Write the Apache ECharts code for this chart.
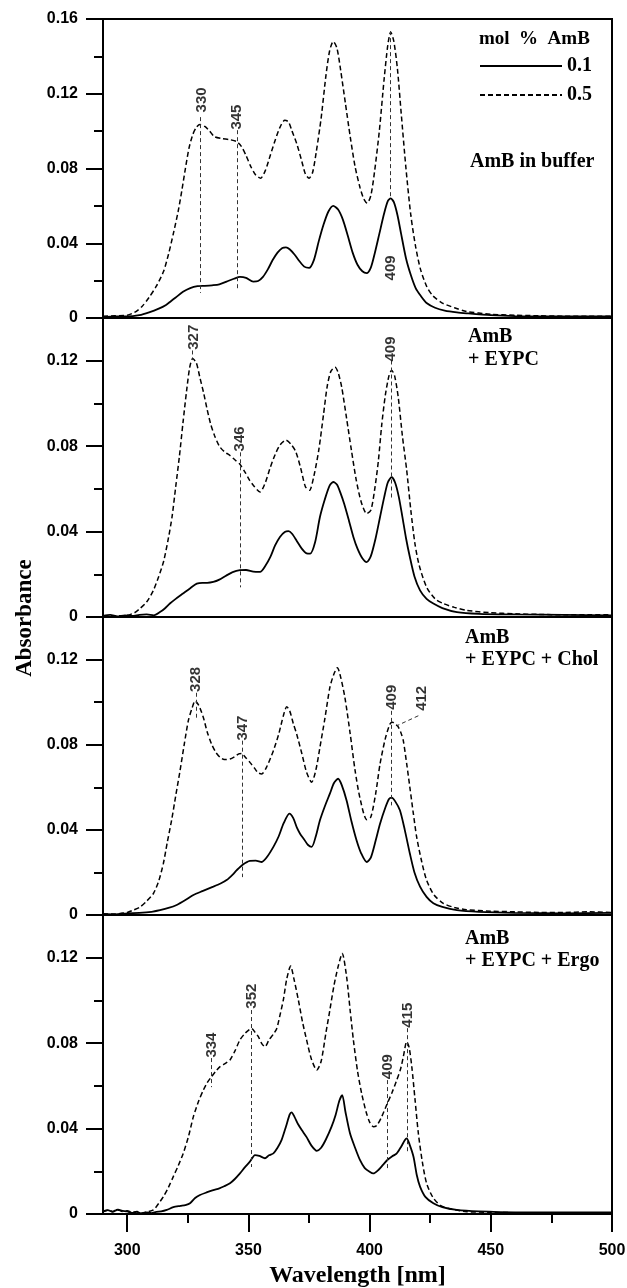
<!DOCTYPE html>
<html><head><meta charset="utf-8">
<script src="https://cdn.jsdelivr.net/npm/echarts@6/dist/echarts.min.js"></script>
<style>html,body{margin:0;padding:0;background:#fff}#c{width:627px;height:1288px}</style>
</head><body><div id="c"></div>
<script>
// ---------- data ----------
const xMin = 290, xMax = 500;
const xTicks = [300, 350, 400, 450, 500];
const xMinorTicks = [325, 375, 425, 475];
const seriesNames = ['0.1', '0.5'];
const panelYMax = [0.16, 0.14, 0.14, 0.14];
const panelTitles = [['AmB in buffer'], ['AmB', '+ EYPC'], ['AmB', '+ EYPC + Chol'], ['AmB', '+ EYPC + Ergo']];

const buffer05 = [[290,0.001],[295,0.0012],[300,0.0015],[303,0.003],[306,0.006],[309,0.011],[312,0.017],[315,0.025],[317,0.034],[319,0.045],[321,0.057],[322.5,0.068],[324,0.08],[325.5,0.091],[327,0.098],[328.5,0.102],[330,0.1035],[332,0.1025],[334,0.1],[336,0.097],[339,0.096],[342,0.0955],[345,0.0945],[347,0.092],[349,0.087],[351,0.081],[353,0.0765],[355,0.0748],[357,0.079],[359,0.087],[361,0.095],[363,0.102],[365,0.1058],[366.5,0.105],[368,0.1],[370,0.093],[372,0.084],[373.5,0.077],[375,0.0748],[376.5,0.078],[378,0.089],[380,0.107],[382,0.13],[383.5,0.143],[385,0.148],[386.5,0.1445],[388,0.133],[390,0.115],[392,0.097],[394,0.081],[396,0.07],[397.5,0.064],[399,0.0615],[400.5,0.0655],[402,0.078],[404,0.1],[406,0.128],[407.5,0.146],[408.7,0.153],[410,0.148],[411.5,0.133],[413,0.11],[415,0.08],[417,0.055],[419,0.038],[421,0.026],[423.5,0.017],[426,0.012],[430,0.008],[435,0.0055],[440,0.0035],[450,0.002],[460,0.0015],[470,0.0012],[480,0.001],[490,0.001],[500,0.001]];
const buffer01 = [[290,0.0005],[295,0.0008],[300,0.0008],[305,0.0015],[309,0.003],[313,0.005],[316,0.007],[318,0.009],[320,0.011],[323,0.014],[326,0.016],[329,0.017],[332,0.0172],[335,0.0175],[338,0.018],[341,0.0195],[344,0.021],[346.5,0.022],[349,0.0215],[352,0.0195],[354,0.0198],[356,0.022],[358,0.026],[360,0.031],[362,0.035],[364,0.0375],[365.5,0.0378],[367,0.0368],[369,0.034],[371,0.0305],[373,0.0275],[375,0.0268],[377,0.031],[379,0.041],[381,0.05],[383,0.057],[385,0.06],[387,0.058],[389,0.0525],[391,0.044],[393,0.035],[395,0.0285],[397,0.025],[398.8,0.024],[400.5,0.027],[402,0.034],[404,0.045],[406,0.056],[407.5,0.0625],[408.7,0.064],[410,0.062],[411.5,0.055],[413,0.045],[415,0.032],[417,0.023],[419,0.016],[421,0.012],[423.5,0.008],[427,0.0055],[431,0.004],[436,0.003],[440,0.0025],[450,0.0015],[460,0.001],[480,0.0008],[500,0.0008]];

const eypc05 = [[290,0.0005],[295,0.0005],[300,0.0008],[303,0.002],[305.3,0.004],[308,0.007],[310.8,0.0125],[313,0.019],[315,0.026],[317,0.037],[318.5,0.047],[320,0.061],[321.5,0.075],[323,0.091],[324.5,0.106],[325.8,0.117],[327,0.121],[328.5,0.119],[330,0.112],[331.5,0.105],[333,0.097],[334.5,0.09],[336,0.085],[338,0.08],[340,0.0775],[342.5,0.0755],[344.5,0.0735],[346.5,0.0715],[348.5,0.068],[350.5,0.064],[352.5,0.061],[354.8,0.0585],[357,0.063],[359,0.07],[361,0.076],[363,0.0805],[365.5,0.0828],[367.5,0.081],[369.5,0.0775],[371.5,0.07],[373.5,0.061],[375.2,0.0593],[377,0.066],[379,0.078],[381,0.095],[382.5,0.108],[384,0.115],[385.7,0.117],[387,0.1145],[388.5,0.1075],[390.5,0.093],[392.5,0.078],[394.5,0.064],[396.5,0.054],[398.8,0.0484],[400.5,0.05],[402,0.059],[403.6,0.073],[405,0.09],[406.5,0.104],[408,0.113],[409.1,0.1155],[410.3,0.113],[411.8,0.103],[413.5,0.085],[415.3,0.0687],[417,0.05],[418.7,0.0343],[420.5,0.024],[423.5,0.014],[427,0.0085],[430.4,0.0063],[435,0.0045],[440,0.0031],[450,0.002],[460,0.0015],[470,0.0012],[480,0.001],[490,0.001],[500,0.001]];
const eypc01 = [[290,0.0005],[293,0.001],[296,0.0003],[299,0.0008],[302,0.0005],[305,0.001],[308,0.0012],[311,0.0008],[313.5,0.0023],[315.5,0.004],[317.6,0.0063],[320,0.0085],[323,0.011],[326,0.0135],[328.7,0.0156],[331,0.016],[333,0.016],[335.5,0.0164],[338,0.0175],[341,0.0195],[343.5,0.021],[346.5,0.0219],[349,0.022],[352,0.0212],[354.8,0.0211],[357,0.024],[359,0.028],[361,0.0335],[363,0.0375],[365,0.0398],[366.5,0.0402],[368,0.039],[370,0.0355],[372,0.032],[374,0.0298],[375.5,0.0297],[377.5,0.035],[379.5,0.0468],[381.5,0.055],[383.5,0.0615],[385,0.0632],[386.5,0.062],[388,0.058],[389.5,0.053],[391.5,0.045],[393.3,0.0375],[395,0.032],[397,0.0275],[398.8,0.0257],[400.5,0.0285],[402.5,0.037],[404.3,0.0468],[406,0.056],[407.5,0.063],[409.1,0.0655],[410.5,0.063],[412,0.0565],[413.5,0.047],[415,0.037],[416.6,0.0281],[418.5,0.019],[420.8,0.0125],[423.5,0.0085],[426.3,0.0063],[430,0.0042],[436,0.0023],[445,0.0015],[460,0.0012],[480,0.001],[500,0.0008]];

const chol05 = [[290,0.0005],[295,0.0005],[300,0.0012],[302.5,0.0023],[305,0.0035],[308,0.0065],[310.8,0.0101],[313,0.016],[314.9,0.0242],[316.5,0.034],[318.3,0.0445],[320,0.056],[321.8,0.0679],[323.5,0.08],[325.2,0.0913],[326.7,0.097],[328,0.1006],[329.5,0.0985],[331.4,0.0928],[333,0.086],[334.8,0.0803],[336.5,0.0765],[338.3,0.0741],[340,0.073],[342.4,0.0733],[344.5,0.0745],[346,0.0757],[347.2,0.0759],[348.8,0.074],[350.6,0.0717],[352.5,0.069],[354,0.0668],[355.5,0.0663],[357.5,0.0695],[360.3,0.0772],[362.5,0.085],[364.5,0.094],[365.8,0.0978],[367,0.096],[368.5,0.09],[369.9,0.085],[372,0.076],[374,0.067],[376.1,0.0624],[377.8,0.068],[379.5,0.0788],[381.5,0.092],[383.6,0.1069],[385.2,0.113],[386.7,0.1162],[388,0.112],[389.8,0.1022],[392,0.085],[394,0.0679],[396,0.055],[398.8,0.0448],[400.5,0.046],[402.5,0.057],[404.3,0.071],[406.5,0.083],[408.4,0.0897],[409.5,0.0905],[410.5,0.0895],[411.5,0.0889],[412.8,0.086],[413.9,0.0819],[415.3,0.071],[416.6,0.06],[418,0.048],[419.4,0.0367],[421.5,0.025],[423.5,0.0164],[426.5,0.0095],[430.4,0.0055],[435,0.0035],[440,0.0025],[450,0.0018],[460,0.0015],[470,0.0012],[480,0.0012],[490,0.0015],[500,0.0012]];
const chol01 = [[290,0.0005],[295,0.0003],[300,0.0008],[305,0.001],[310,0.0015],[313.5,0.0023],[317,0.0033],[320.4,0.0047],[324,0.007],[327.3,0.0094],[331,0.0112],[335.5,0.0133],[338.5,0.0148],[341,0.0164],[343.5,0.019],[345.2,0.0211],[347.5,0.0235],[350.6,0.0254],[353,0.0255],[355.5,0.0249],[357.5,0.027],[360.3,0.032],[362.5,0.037],[364.5,0.043],[366.9,0.0476],[368.5,0.0455],[370,0.041],[371.3,0.0382],[373,0.0355],[374.5,0.033],[376.1,0.032],[377.8,0.037],[379.5,0.0445],[381.5,0.051],[383.6,0.057],[385.3,0.062],[387,0.064],[388.5,0.061],[390.5,0.0538],[392.5,0.044],[394.6,0.0351],[396.5,0.029],[398.8,0.0249],[400.5,0.027],[402.5,0.035],[404.3,0.0429],[406.5,0.0505],[408,0.0545],[409.1,0.0551],[410.5,0.0535],[412.5,0.0492],[414.5,0.04],[416.6,0.0289],[418.5,0.02],[420.8,0.0133],[423.5,0.0085],[426.3,0.0055],[430,0.0038],[436,0.0023],[445,0.0015],[460,0.001],[480,0.0008],[500,0.001]];

const ergo05 = [[290,0.001],[292,0.0018],[294,0.0012],[296,0.0022],[298,0.0012],[300,0.0015],[302,0.0008],[304,0.0012],[306,0.0005],[308,0.001],[310.8,0.0019],[313,0.005],[314.9,0.0081],[317,0.0125],[319,0.0175],[321,0.0225],[323.1,0.0284],[325.2,0.036],[327.3,0.0456],[329.5,0.053],[331.4,0.058],[333,0.0615],[334.8,0.0643],[336.5,0.0668],[338.3,0.069],[340.5,0.0705],[342.4,0.0721],[344.5,0.0765],[346.5,0.0815],[348.5,0.0845],[350,0.086],[351.3,0.0869],[352.8,0.085],[354.1,0.083],[355.5,0.0798],[356.8,0.0783],[358.5,0.0815],[360.5,0.0845],[361.7,0.0869],[363,0.093],[364.4,0.1002],[365.8,0.11],[367.4,0.1161],[368.8,0.11],[370.6,0.1002],[372.3,0.09],[374,0.0815],[376,0.0725],[378.2,0.0674],[380,0.0715],[382,0.085],[383.6,0.0955],[385.3,0.107],[387,0.1158],[388.7,0.122],[390.5,0.1111],[392,0.095],[393.3,0.0815],[395,0.067],[396.7,0.0565],[398.5,0.048],[400,0.043],[401.5,0.0409],[403,0.0415],[405,0.0456],[407.3,0.0518],[409.3,0.057],[411.2,0.0627],[412.8,0.068],[413.9,0.0736],[415.3,0.0807],[416.3,0.078],[417.4,0.069],[418.7,0.054],[420.1,0.0378],[421.8,0.024],[423.5,0.0144],[426,0.008],[429,0.0042],[433,0.0025],[440,0.0011],[450,0.0008],[460,0.0006],[470,0.0005],[480,0.0006],[490,0.0005],[500,0.0005]];
const ergo01 = [[290,0.0012],[292,0.0018],[294,0.001],[296,0.002],[298,0.0015],[300,0.0012],[302,0.0005],[304,0.001],[306,0.0002],[308,0.0008],[310,0.0004],[312,0.001],[314,0.0012],[316.3,0.0019],[319,0.0032],[322,0.0038],[324,0.0042],[325.9,0.005],[328,0.0075],[330,0.0089],[333,0.0102],[335.5,0.0112],[338,0.012],[340,0.013],[342.4,0.0144],[344.5,0.0165],[346.5,0.019],[348.5,0.0218],[350.6,0.0245],[352.7,0.0276],[354.5,0.0272],[356.8,0.0261],[358.5,0.0275],[360.3,0.0284],[362,0.031],[363.7,0.0347],[365.5,0.041],[367,0.0465],[367.8,0.0476],[369,0.0455],[370.5,0.042],[372,0.0393],[374,0.036],[376,0.032],[378.2,0.0296],[380,0.031],[382,0.035],[384.3,0.0409],[386,0.0465],[387.5,0.053],[388.7,0.0557],[390,0.048],[391.9,0.0378],[394,0.031],[396,0.0253],[398,0.0215],[400,0.0198],[401.5,0.019],[403.5,0.0205],[405.5,0.023],[407.3,0.0253],[409.3,0.027],[411.2,0.0284],[413,0.0315],[414.5,0.0345],[415.3,0.0354],[416.5,0.0325],[418.1,0.0268],[419.5,0.018],[420.8,0.0128],[423,0.008],[426.3,0.005],[430,0.0032],[435.9,0.0019],[445,0.0012],[460,0.0008],[480,0.0008],[500,0.0008]];

const panelData = [[buffer01, buffer05], [eypc01, eypc05], [chol01, chol05], [ergo01, ergo05]];

// peak marker lines: [wavelength, yFrom, yTo]
const peakLines = [
  [[330, 0.1075, 0.0134], [345.2, 0.1005, 0.015], [408.7, 0.1535, 0.064]],
  [[327, 0.1248, 0.121], [346.5, 0.0771, 0.0139], [408.8, 0.1201, 0.0556]],
  [[328.6, 0.1044, 0.0927], [347.6, 0.0819, 0.0178], [409.1, 0.0959, 0.0515]],
  [[334.8, 0.073, 0.0594], [351.3, 0.0955, 0.022], [407.3, 0.0627, 0.0215], [415.5, 0.087, 0.029]]
];
// leader line for the 412 shoulder (panel 3)
const leader412 = [[420.1, 0.0936], [411.2, 0.0889]];
// peak labels: [wavelength, value at label centre, text]
const peakLabels = [
  [[330.6, 0.1167, '330'], [345.2, 0.1075, '345'], [408.8, 0.0268, '409']],
  [[327.6, 0.131, '327'], [346.5, 0.0834, '346'], [408.8, 0.1255, '409']],
  [[328.3, 0.1107, '328'], [347.5, 0.0878, '347'], [409.1, 0.1023, '409'], [421.5, 0.1018, '412']],
  [[334.8, 0.0791, '334'], [351.6, 0.102, '352'], [407.4, 0.069, '409'], [415.6, 0.0931, '415']]
];

// ---------- layout ----------
const L = 103, R = 612;
const tops = [19, 318, 617, 915], bottoms = [318, 617, 915, 1214];
const SANS = 'Liberation Sans, Arial, sans-serif';
const SERIF = 'Liberation Serif, Times New Roman, serif';

const grids = [], xAxes = [], yAxes = [], series = [], graphics = [];
for (let i = 0; i < 4; i++) {
  grids.push({left: L, width: R - L, top: tops[i], height: bottoms[i] - tops[i],
    outerBoundsMode: 'none', containLabel: false,
    show: true, borderColor: '#000', borderWidth: 2, backgroundColor: 'transparent'});
  const last = i === 3;
  xAxes.push({type: 'value', gridIndex: i, min: xMin, max: xMax,
    show: true, splitLine: {show: false},
    axisLine: {show: true, lineStyle: {color: '#000', width: 2}},
    axisTick: {show: last, length: 18, inside: false, lineStyle: {color: '#000', width: 2}, customValues: xTicks},
    axisLabel: {show: last, customValues: xTicks, margin: 29, fontFamily: SANS, fontWeight: 'bold', fontSize: 16, color: '#000'},
    name: last ? 'Wavelength [nm]' : '', nameLocation: 'middle', nameGap: 50,
    nameTextStyle: {fontFamily: SERIF, fontWeight: 'bold', fontSize: 24, color: '#000'}
  });
  yAxes.push({type: 'value', gridIndex: i, min: 0, max: panelYMax[i], interval: 0.04,
    splitLine: {show: false},
    axisLine: {show: true, lineStyle: {color: '#000', width: 2}},
    axisTick: {show: true, length: 17, lineStyle: {color: '#000', width: 2}},
    minorTick: {show: true, splitNumber: 2, length: 9, lineStyle: {color: '#000', width: 2}},
    axisLabel: {margin: 25, fontFamily: SANS, fontWeight: 'bold', fontSize: 16, color: '#000',
      formatter: v => (Math.abs(v - 0.14) < 1e-9 && panelYMax[i] === 0.14) ? '' : (v === 0 ? '0' : v.toFixed(2))}
  });
}
// minor ticks for the bottom x axis
xAxes.push({type: 'value', gridIndex: 3, min: xMin, max: xMax, position: 'bottom',
  axisLine: {show: false}, splitLine: {show: false},
  axisTick: {show: true, length: 9, lineStyle: {color: '#000', width: 2}, customValues: xMinorTicks},
  axisLabel: {show: false}
});

for (let i = 0; i < 4; i++) {
  const [d01, d05] = panelData[i];
  series.push({type: 'line', name: seriesNames[0], xAxisIndex: i, yAxisIndex: i, data: d01,
    showSymbol: false, symbol: 'none', smooth: 0.25, itemStyle: {color: '#000'},
    lineStyle: {color: '#000', width: 1.8, type: 'solid'}, z: 3});
  series.push({type: 'line', name: seriesNames[1], xAxisIndex: i, yAxisIndex: i, data: d05,
    showSymbol: false, symbol: 'none', smooth: 0.25, itemStyle: {color: '#000'},
    lineStyle: {color: '#000', width: 1.5, type: [5, 3]}, z: 3});
  const ml = peakLines[i].map(p => [{coord: [p[0], p[1]]}, {coord: [p[0], p[2]]}]);
  if (i === 2) ml.push([{coord: leader412[0]}, {coord: leader412[1]}]);
  series.push({type: 'scatter', name: 'peaks' + i, xAxisIndex: i, yAxisIndex: i,
    data: peakLabels[i], symbol: 'circle', symbolSize: 1, itemStyle: {color: 'transparent'}, silent: true, z: 5,
    label: {show: true, position: 'inside', rotate: 90, formatter: p => p.data[2],
      fontFamily: SANS, fontWeight: 'bold', fontSize: 15, color: '#000'},
    markLine: {silent: true, symbol: ['none', 'none'], label: {show: false}, animation: false,
      lineStyle: {color: '#333', width: 1, type: [4, 3]}, data: ml}
  });
}

// panel titles
const titleY = [[161.5], [336.5, 359.7], [638, 660], [939, 961]];
const titleX = [470, 468, 465, 465];
for (let i = 0; i < 4; i++) {
  panelTitles[i].forEach((t, k) => graphics.push({type: 'text', left: titleX[i], top: titleY[i][k] - 10,
    style: {text: t, fill: '#000', font: 'bold 20px ' + SERIF}}));
}
graphics.push({type: 'text', left: 479, top: 30, style: {text: 'mol  %  AmB', fill: '#000', font: 'bold 19px ' + SERIF}});
graphics.push({type: 'text', x: 25, y: 618, rotation: Math.PI / 2,
  style: {text: 'Absorbance', fill: '#000', font: 'bold 23px ' + SERIF, textAlign: 'center', textVerticalAlign: 'middle', align: 'center', verticalAlign: 'middle'}});

const chart = echarts.init(document.getElementById('c'), null, {renderer: 'canvas'});
chart.setOption({
  animation: false,
  backgroundColor: '#fff',
  grid: grids, xAxis: xAxes, yAxis: yAxes, series: series, graphic: graphics,
  legend: {data: seriesNames, left: 474, top: 51, orient: 'vertical', itemWidth: 82, itemHeight: 14, itemGap: 9,
    selectedMode: false, itemStyle: {opacity: 0},
    textStyle: {fontFamily: SERIF, fontWeight: 'bold', fontSize: 20, color: '#000'}}
});
</script></body></html>
